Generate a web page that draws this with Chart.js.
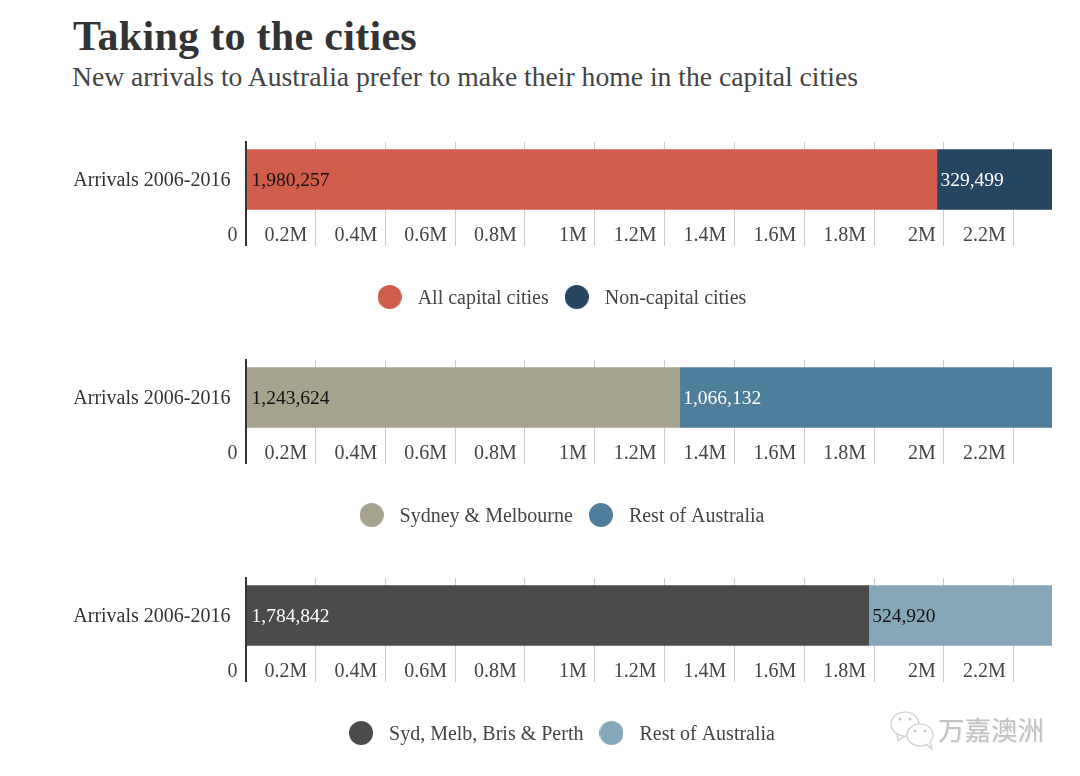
<!DOCTYPE html>
<html>
<head>
<meta charset="utf-8">
<title>Taking to the cities</title>
<script src="https://cdn.jsdelivr.net/npm/chart.js@4"></script>
<style>
    html, body { margin: 0; padding: 0; background: #fff; overflow: hidden; }
    body { width: 1080px; height: 776px; position: relative; font-family: "Liberation Serif", serif; }
    h1 { position: absolute; left: 73px; top: 12px; margin: 0; font-size: 42px; line-height: 48px; color: #333; font-weight: bold; letter-spacing: 0.3px; }
    h2 { position: absolute; left: 72px; top: 61px; margin: 0; font-size: 27.65px; line-height: 32px; color: #444; font-weight: normal; }
    canvas { position: absolute; left: 0; }
    .mark { position: absolute; left: 938px; top: 712px; font-family: "Noto Sans CJK SC", sans-serif; font-size: 26.5px; line-height: 34px; color: #c2c2c2; text-shadow: 1px 1px 0 #f0f0f0; }
    svg { position: absolute; left: 888px; top: 708px; }
</style>
</head>
<body>
<h1>Taking to the cities</h1>
<h2>New arrivals to Australia prefer to make their home in the capital cities</h2>
<canvas id="chartCapitals" width="1080" height="190" style="top:130px"></canvas>
<canvas id="chartSydMelb" width="1080" height="190" style="top:348px"></canvas>
<canvas id="chartFourCities" width="1080" height="190" style="top:566px"></canvas>
<svg width="50" height="48" viewBox="0 0 50 48" fill="#fff" stroke="#ccc" stroke-width="1.2">
    <path d="M9 26 L10 33 L17 28"/>
    <ellipse cx="17" cy="16" rx="14" ry="12"/>
    <circle cx="12" cy="11" r="1" fill="#ccc"/>
    <circle cx="22" cy="11" r="1" fill="#ccc"/>
    <ellipse cx="32" cy="27" rx="13" ry="11"/>
    <circle cx="27" cy="23" r="1" fill="#ccc"/>
    <circle cx="37" cy="23" r="1" fill="#ccc"/>
    <path d="M38 36 L44 41 L42 33"/>
</svg>
<div class="mark">万嘉澳洲</div>

<script>
// Dane z obrazka
const categories = ['Arrivals 2006-2016'];
const tickValues = [0, 200000, 400000, 600000, 800000, 1000000, 1200000, 1400000, 1600000, 1800000, 2000000, 2200000];
const tickLabels = ['0', '0.2M', '0.4M', '0.6M', '0.8M', '1M', '1.2M', '1.4M', '1.6M', '1.8M', '2M', '2.2M'];

const capitalNames = ['All capital cities', 'Non-capital cities'];
const capitalValues = [1980257, 329499];

const sydMelbNames = ['Sydney & Melbourne', 'Rest of Australia'];
const sydMelbValues = [1243624, 1066132];

const fourCityNames = ['Syd, Melb, Bris & Perth', 'Rest of Australia'];
const fourCityValues = [1784842, 524920];

const serif = '"Liberation Serif", serif';

// Kółko do legendy (wyżej w płótnie, żeby tekst legendy trafił na środek kółka)
function legendDot(color) {
    const c = document.createElement('canvas');
    c.width = 24;
    c.height = 28;
    const ctx = c.getContext('2d');
    ctx.fillStyle = color;
    ctx.beginPath();
    ctx.arc(12, 12, 12, 0, Math.PI * 2);
    ctx.fill();
    return c;
}

// Wartości wpisane w słupki
const barValueLabels = {
    id: 'barValueLabels',
    afterDatasetsDraw(chart) {
        const ctx = chart.ctx;
        ctx.save();
        ctx.font = '19.5px ' + serif;
        ctx.textAlign = 'left';
        ctx.textBaseline = 'middle';
        chart.data.datasets.forEach((ds, i) => {
            const bar = chart.getDatasetMeta(i).data[0];
            ctx.fillStyle = ds.valueColor;
            ctx.fillText(ds.data[0].toLocaleString('en-US'), bar.base + (i === 0 ? 5 : 3.5), bar.y + 1);
        });
        ctx.restore();
    }
};

function makeChart(id, names, values, colors, textColors) {
    new Chart(document.getElementById(id), {
        type: 'bar',
        data: {
            labels: categories,
            datasets: names.map((name, i) => ({
                label: name,
                data: [values[i]],
                backgroundColor: colors[i],
                valueColor: textColors[i],
                barThickness: 60
            }))
        },
        plugins: [barValueLabels],
        options: {
            indexAxis: 'y',
            responsive: false,
            animation: false,
            layout: { padding: { left: 66, right: 28, top: 12, bottom: 1 } },
            plugins: {
                tooltip: { enabled: false },
                legend: {
                    position: 'bottom',
                    onClick: null,
                    labels: {
                        usePointStyle: true,
                        pointStyleWidth: 36,
                        boxHeight: 17,
                        padding: 10,
                        color: '#444',
                        font: { family: serif, size: 20 },
                        generateLabels: chart => chart.data.datasets.map((ds, i) => ({
                            text: ds.label,
                            fontColor: '#444',
                            pointStyle: legendDot(ds.backgroundColor),
                            datasetIndex: i
                        }))
                    }
                }
            },
            scales: {
                x: {
                    stacked: true,
                    min: 0,
                    max: values[0] + values[1],
                    afterBuildTicks: scale => { scale.ticks = tickValues.map(v => ({ value: v })); },
                    afterFit: scale => { scale.height = 62; },
                    border: { display: false },
                    grid: {
                        color: ctx => ctx.tick && ctx.tick.value === 0 ? '#333' : '#ccc',
                        lineWidth: ctx => ctx.tick && ctx.tick.value === 0 ? 2 : 1,
                        tickLength: 29
                    },
                    ticks: {
                        autoSkip: false,
                        maxRotation: 0,
                        align: 'end',
                        labelOffset: -8,
                        padding: -22,
                        color: '#444',
                        font: { family: serif, size: 20 },
                        callback: (value, index) => tickLabels[index]
                    }
                },
                y: {
                    stacked: true,
                    afterFit: scale => {
                        scale.width = 179.5;
                        scale.paddingTop = 0;
                        scale.paddingBottom = 0;
                    },
                    border: { display: true, color: '#333', width: 2, z: 1 },
                    grid: { display: false, drawTicks: false },
                    ticks: { padding: 15, labelOffset: 1, color: '#333', font: { family: serif, size: 20 } }
                }
            }
        }
    });
}

makeChart('chartCapitals', capitalNames, capitalValues, ['#d25c4b', '#264562'], ['#111', '#fff']);
makeChart('chartSydMelb', sydMelbNames, sydMelbValues, ['#a5a28d', '#4f7e9c'], ['#111', '#fff']);
makeChart('chartFourCities', fourCityNames, fourCityValues, ['#4b4b4b', '#86a7b9'], ['#fff', '#111']);
</script>
</body>
</html>
